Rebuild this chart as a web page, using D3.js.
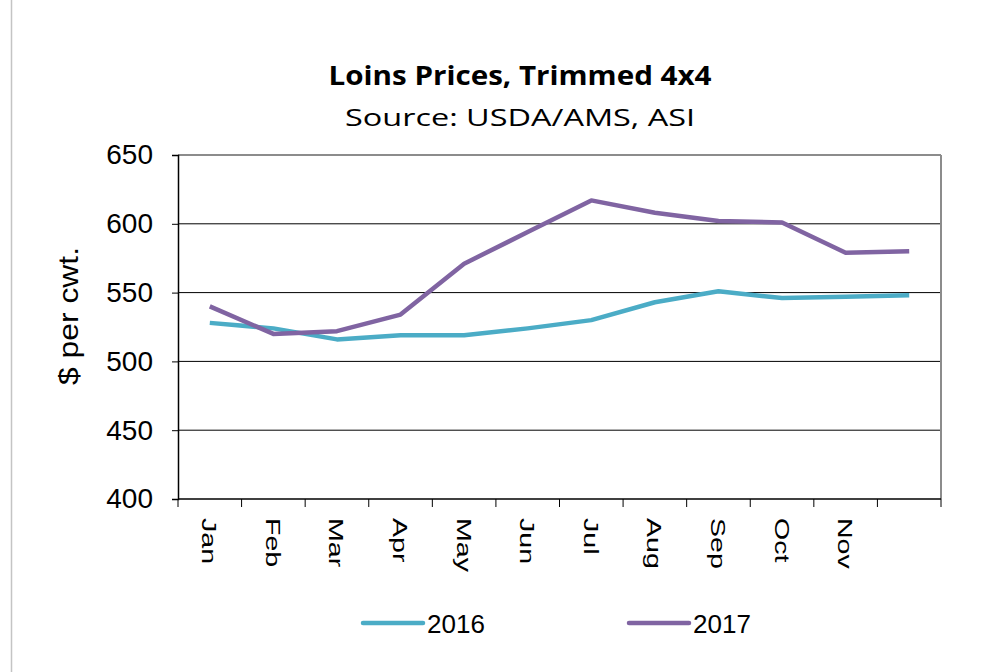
<!DOCTYPE html>
<html><head><meta charset="utf-8">
<script src="https://cdn.jsdelivr.net/npm/d3@7"></script>
<style>body{margin:0;background:#fff}svg{display:block}</style>
</head><body>
<script>
const months = ["Jan","Feb","Mar","Apr","May","Jun","Jul","Aug","Sep","Oct","Nov","Dec"];
const monthLabels = ["Jan","Feb","Mar","Apr","May","Jun","Jul","Aug","Sep","Oct","Nov",""];
const values2016 = [528,524,516,519,519,524,530,543,551,546,547,548];
const values2017 = [540,520,522,534,571,594,617,608,602,601,579,580];
const yTicks = [400,450,500,550,600,650];
const seriesNames = ["2016","2017"];
const seriesColors = ["#4BACC6","#8064A2"];

const W = 1004, H = 672;
const FONT = "Liberation Sans, Arial, sans-serif";
const TFONT = "Open Sans, Liberation Sans, sans-serif";
const svg = d3.select("body").append("svg").attr("width", W).attr("height", H);
const m = {left:178, right:941, top:155, bottom:499};

svg.append("line").attr("x1",11.5).attr("x2",11.5).attr("y1",0).attr("y2",H)
  .attr("stroke","#c4c4c4").attr("stroke-width",1.5);

const x = d3.scaleBand().domain(months).range([m.left, m.right]).padding(0);
const y = d3.scaleLinear().domain([400,650]).range([m.bottom, m.top]);

// gridlines
svg.append("g").selectAll("line").data(yTicks.filter(v => v>400 && v<650)).join("line")
  .attr("x1", m.left).attr("x2", m.right).attr("y1", d=>y(d)).attr("y2", d=>y(d))
  .attr("stroke","#000").attr("stroke-width",1);
// top & right border
svg.append("line").attr("x1",m.left).attr("x2",m.right).attr("y1",m.top).attr("y2",m.top)
  .attr("stroke","#8c8c8c").attr("stroke-width",2);
svg.append("line").attr("x1",m.right).attr("x2",m.right).attr("y1",m.top).attr("y2",m.bottom)
  .attr("stroke","#8c8c8c").attr("stroke-width",2);

// y axis
const yAxis = svg.append("g").attr("transform",`translate(${m.left},0)`)
  .call(d3.axisLeft(y).tickValues(yTicks).tickSize(6).tickPadding(19));
yAxis.select(".domain").attr("stroke","#000").attr("stroke-width",1.5);
yAxis.selectAll(".tick line").attr("stroke","#000").attr("stroke-width",1);
yAxis.selectAll("text").attr("font-family",FONT)
  .attr("font-size","28px").attr("fill","#000");

// x axis
const xTickPos = months.map(d => x(d)).concat([m.right]);
const xg = svg.append("g");
xg.append("line").attr("x1",m.left).attr("x2",m.right).attr("y1",m.bottom).attr("y2",m.bottom)
  .attr("stroke","#000").attr("stroke-width",1.5);
xg.selectAll("line.t").data(xTickPos).join("line").attr("class","t")
  .attr("x1",d=>d).attr("x2",d=>d).attr("y1",m.bottom).attr("y2",m.bottom+8)
  .attr("stroke","#000").attr("stroke-width",1);
xg.selectAll("text").data(monthLabels).join("text")
  .attr("transform",(d,i)=>`translate(${x(months[i])+x.bandwidth()/2 - 7.5},518) rotate(90) scale(1.36,1)`)
  .attr("font-family",FONT).attr("font-size","21px")
  .attr("text-anchor","start").attr("fill","#000").text(d=>d);

// y title
svg.append("text").attr("transform","translate(78,316) rotate(-90)")
  .attr("text-anchor","middle").attr("font-family",FONT)
  .attr("font-size","28px").attr("fill","#000")
  .attr("textLength",138).attr("lengthAdjust","spacingAndGlyphs").text("$ per cwt.");

// titles
svg.append("text").attr("x",520).attr("y",85).attr("text-anchor","middle")
  .attr("font-family",TFONT).attr("font-weight","bold")
  .attr("font-size","27px").attr("fill","#000")
  .attr("textLength",383).attr("lengthAdjust","spacingAndGlyphs").text("Loins Prices, Trimmed 4x4");
svg.append("text").attr("x",520).attr("y",126).attr("text-anchor","middle")
  .attr("font-family",TFONT)
  .attr("font-size","24px").attr("fill","#000")
  .attr("textLength",350).attr("lengthAdjust","spacingAndGlyphs").text("Source: USDA/AMS, ASI");

// lines
const line = d3.line().x((d,i)=>x(months[i])+x.bandwidth()/2).y(d=>y(d));
[values2016, values2017].forEach((vals,k)=>{
  svg.append("path").datum(vals).attr("d",line).attr("fill","none")
    .attr("stroke",seriesColors[k]).attr("stroke-width",4.5).attr("stroke-linejoin","round");
});

// legend
const legX = [363, 629];
seriesNames.forEach((n,k)=>{
  svg.append("line").attr("x1",legX[k]).attr("x2",legX[k]+60).attr("y1",623).attr("y2",623)
    .attr("stroke",seriesColors[k]).attr("stroke-width",4.5).attr("stroke-linecap","round");
  svg.append("text").attr("x",legX[k]+64).attr("y",633).attr("font-family",FONT)
    .attr("font-size","26px").attr("fill","#000").text(n);
});
</script>
</body></html>
